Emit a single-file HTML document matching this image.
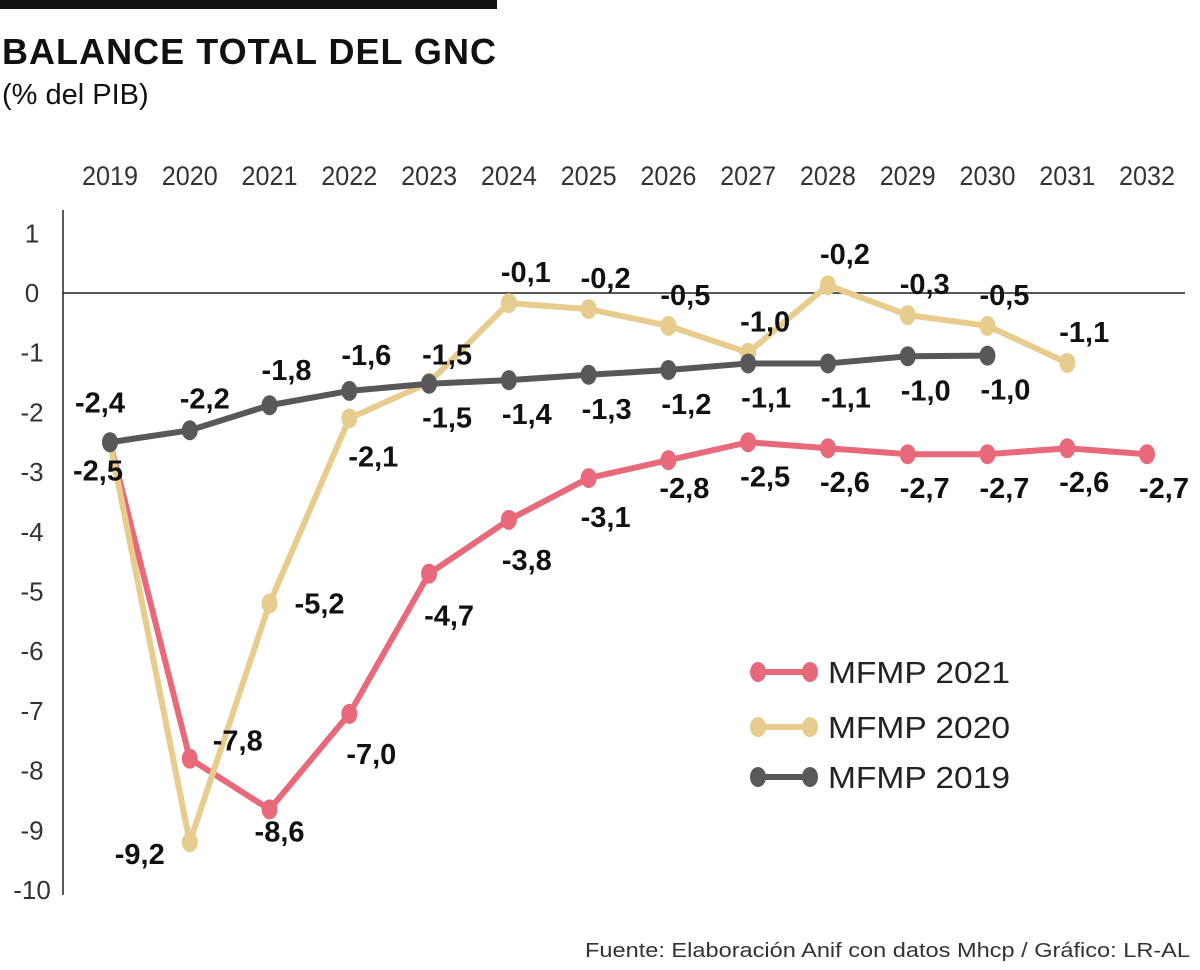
<!DOCTYPE html>
<html><head><meta charset="utf-8"><style>
body{margin:0;background:#fff;width:1200px;height:965px;overflow:hidden;font-family:"Liberation Sans",sans-serif}
</style></head><body>
<svg width="1200" height="965" xmlns="http://www.w3.org/2000/svg">
<rect x="0" y="0" width="497" height="9" fill="#111"/>
<text x="2" y="64" font-size="36" font-weight="bold" fill="#111" textLength="494">BALANCE TOTAL DEL GNC</text>
<text x="2" y="104" font-size="29" fill="#111">(% del PIB)</text>
<g id="axes"></g>
<g id="series"></g>
<g id="legend"></g>
<text x="1190" y="957" font-size="20" fill="#333" text-anchor="end" textLength="605" lengthAdjust="spacingAndGlyphs">Fuente: Elaboración Anif con datos Mhcp / Gráfico: LR-AL</text>
</svg>
<script>
const years=[2019,2020,2021,2022,2023,2024,2025,2026,2027,2028,2029,2030,2031,2032];
const yTicks=[1,0,-1,-2,-3,-4,-5,-6,-7,-8,-9,-10];
const v2021=[-2.5,-7.8,-8.65,-7.05,-4.7,-3.8,-3.1,-2.8,-2.5,-2.6,-2.7,-2.7,-2.6,-2.7];
const l2021=["-2,5","-7,8","-8,6","-7,0","-4,7","-3,8","-3,1","-2,8","-2,5","-2,6","-2,7","-2,7","-2,6","-2,7"];
const v2020=[-2.5,-9.2,-5.2,-2.1,-1.5,-0.17,-0.27,-0.55,-1.0,0.13,-0.37,-0.55,-1.17];
const l2020=[null,"-9,2","-5,2","-2,1","-1,5","-0,1","-0,2","-0,5","-1,0","-0,2","-0,3","-0,5","-1,1"];
const v2019=[-2.5,-2.3,-1.88,-1.64,-1.52,-1.46,-1.37,-1.29,-1.18,-1.18,-1.06,-1.05];
const l2019=["-2,4","-2,2","-1,8","-1,6","-1,5","-1,4","-1,3","-1,2","-1,1","-1,1","-1,0","-1,0"];
const NS="http://www.w3.org/2000/svg";
const x=i=>110+i*79.77;
const y=v=>293-v*59.7;
function mk(tag,attrs,parent){const e=document.createElementNS(NS,tag);for(const k in attrs)e.setAttribute(k,attrs[k]);parent.appendChild(e);return e;}
const axes=document.getElementById('axes');
let e=mk('line',{x1:63,y1:210,x2:63,y2:895,stroke:'#222','stroke-width':1.5},axes);


e=mk('line',{x1:63,y1:y(0),x2:1185,y2:y(0),stroke:'#222','stroke-width':1.5},axes);


yTicks.forEach(t=>{const el=mk('text',{x:32,y:y(t)+9,'font-size':26,fill:'#333','text-anchor':'middle'},axes);el.textContent=t;

});
years.forEach((yr,i)=>{const el=mk('text',{x:x(i),y:185,'font-size':27,fill:'#333','text-anchor':'middle',textLength:56,lengthAdjust:'spacingAndGlyphs'},axes);el.textContent=yr;

});
const g=document.getElementById('series');
function series(vals,labs,color,name){
 const grp=mk('g',{},g);
 
 
 const pl=mk('polyline',{points:vals.map((v,i)=>x(i)+','+y(v)).join(' '),fill:'none',stroke:color,'stroke-width':6,'stroke-linejoin':'round'},grp);
 
 
 vals.forEach((v,i)=>{const c=mk('ellipse',{cx:x(i),cy:y(v),rx:8,ry:10,fill:color},grp);
 
 });
 return grp;
}
const pink='#e8697a',beige='#e8cc8e',gray='#58585a';
series(v2021,l2021,pink,'mfmp-2021');
series(v2020,l2020,beige,'mfmp-2020');
series(v2019,l2019,gray,'mfmp-2019');
function labels(vals,labs,offs){
 vals.forEach((v,i)=>{if(!labs[i])return;const o=offs(i);
 const t=mk('text',{x:x(i)+o[0],y:y(v)+o[1]+10,'font-size':29,'font-weight':'bold',fill:'#111','text-anchor':'middle'},g);
 t.textContent=labs[i];
 
 });
}
labels(v2021,l2021,i=>[[-12,28],[48,-18],[10,22],[22,40],[20,42],[18,40],[17,39],[16,28]][i]||[17,34]);
labels(v2020,l2020,i=>[[0,0],[-50,12],[50,0],[24,38],[18,-28]][i]||[17,-31]);
labels(v2019,l2019,i=>[[-10,-40],[15,-32],[17,-35],[17,-36]][i]||[18,34]);
const lg=document.getElementById('legend');
[['MFMP 2021',pink,672],['MFMP 2020',beige,727],['MFMP 2019',gray,777]].forEach(d=>{
 const grp=mk('g',{},lg);
 
 
 mk('line',{x1:752,y1:d[2],x2:815,y2:d[2],stroke:d[1],'stroke-width':6},grp);
 mk('ellipse',{cx:758,cy:d[2],rx:8,ry:10,fill:d[1]},grp);
 mk('ellipse',{cx:810,cy:d[2],rx:8,ry:10,fill:d[1]},grp);
 const t=mk('text',{x:828,y:d[2]+11,'font-size':31,fill:'#222',textLength:182,lengthAdjust:'spacingAndGlyphs'},grp);t.textContent=d[0];
});
</script>
</body></html>
